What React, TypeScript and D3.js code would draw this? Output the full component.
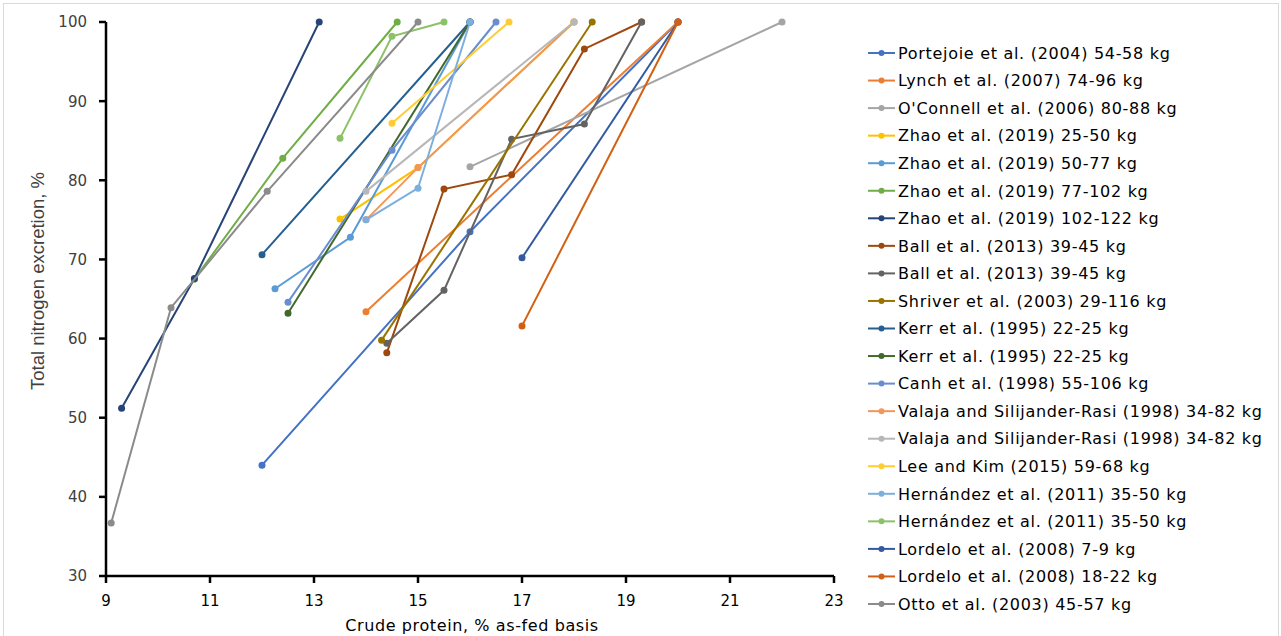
import React from "react";
import * as d3 from "d3";

// studies, in legend order
const seriesNames = [
  "Portejoie et al. (2004) 54-58 kg",
  "Lynch et al. (2007) 74-96 kg",
  "O'Connell et al. (2006) 80-88 kg",
  "Zhao et al. (2019) 25-50 kg",
  "Zhao et al. (2019) 50-77 kg",
  "Zhao et al. (2019) 77-102 kg",
  "Zhao et al. (2019) 102-122 kg",
  "Ball et al. (2013) 39-45 kg",
  "Ball et al. (2013) 39-45 kg",
  "Shriver et al. (2003) 29-116 kg",
  "Kerr et al. (1995) 22-25 kg",
  "Kerr et al. (1995) 22-25 kg",
  "Canh et al. (1998) 55-106 kg",
  "Valaja and Silijander-Rasi (1998) 34-82 kg",
  "Valaja and Silijander-Rasi (1998) 34-82 kg",
  "Lee and Kim (2015) 59-68 kg",
  "Hernández et al. (2011) 35-50 kg",
  "Hernández et al. (2011) 35-50 kg",
  "Lordelo et al. (2008) 7-9 kg",
  "Lordelo et al. (2008) 18-22 kg",
  "Otto et al. (2003) 45-57 kg",
];

const seriesColors = [
  "#4472C4", "#ED7D31", "#A5A5A5", "#FFC000", "#5B9BD5", "#70AD47",
  "#264478", "#9E480E", "#636363", "#997300", "#255E91", "#43682B",
  "#698ED0", "#F1975A", "#B7B7B7", "#FFCD33", "#7CAFDD", "#8CC168",
  "#335AA1", "#D26012", "#8B8B8B",
];

// crude protein, % as-fed
const seriesX = [
  [12, 16, 20],
  [14, 20],
  [16, 22],
  [13.5, 15, 18],
  [12.25, 13.7, 16],
  [10.7, 12.4, 14.6],
  [9.3, 10.7, 13.1],
  [14.4, 15.5, 16.8, 18.2, 19.3],
  [14.4, 15.5, 16.8, 18.2, 19.3],
  [14.3, 18.35],
  [12, 16],
  [12.5, 16],
  [12.5, 14.5, 16.5],
  [14, 15, 18],
  [14, 18],
  [14.5, 16.75],
  [14, 15, 16],
  [13.5, 14.5, 15.5],
  [17, 20],
  [17, 20],
  [9.1, 10.25, 12.1, 15],
];

// total nitrogen excretion, %
const seriesY = [
  [44, 73.5, 100],
  [63.4, 100],
  [81.7, 100],
  [75.1, 81.6, 100],
  [66.3, 72.8, 100],
  [67.5, 82.8, 100],
  [51.2, 67.6, 100],
  [58.2, 78.9, 80.7, 96.6, 100],
  [59.4, 66.1, 85.2, 87.1, 100],
  [59.8, 100],
  [70.6, 100],
  [63.2, 100],
  [64.6, 83.8, 100],
  [75, 81.6, 100],
  [78.6, 100],
  [87.2, 100],
  [75, 79, 100],
  [85.3, 98.2, 100],
  [70.2, 100],
  [61.6, 100],
  [36.7, 63.9, 78.6, 100],
];

const xTicks = [9, 11, 13, 15, 17, 19, 21, 23];
const yTicks = [30, 40, 50, 60, 70, 80, 90, 100];

const W = 1281;
const H = 636;
const font = "'DejaVu Sans', 'Noto Sans', sans-serif";

export default function App() {
  const x = d3.scaleLinear().domain([9, 23]).range([106, 834]);
  const y = d3.scaleLinear().domain([30, 100]).range([576, 22]);
  const line = d3
    .line<[number, number]>()
    .x((d) => x(d[0]))
    .y((d) => y(d[1]));

  const series = seriesNames.map((name, i) => ({
    name,
    color: seriesColors[i],
    pts: seriesX[i].map((v, j) => [v, seriesY[i][j]] as [number, number]),
  }));

  return (
    <svg
      width={W}
      height={H}
      style={{ position: "absolute", left: 0, top: 0, background: "#fff" }}
    >
      <rect x={3.5} y={3.5} width={1275} height={H + 5} fill="#fff" stroke="#d9d9d9" />

      {series.map((s, i) => (
        <g key={i}>
          <path d={line(s.pts) || ""} fill="none" stroke={s.color} strokeWidth={2} />
          {s.pts.map((p, j) => (
            <circle key={j} cx={x(p[0])} cy={y(p[1])} r={3.5} fill={s.color} />
          ))}
        </g>
      ))}

      {/* axes */}
      <line x1={106} x2={106} y1={y(100)} y2={y(30)} stroke="#000" strokeWidth={2.5} />
      <line x1={106} x2={834} y1={576} y2={576} stroke="#000" strokeWidth={2.5} />
      {yTicks.map((t) => (
        <g key={t}>
          <line x1={99} x2={106} y1={y(t)} y2={y(t)} stroke="#000" strokeWidth={2.5} />
          <text
            x={87}
            y={y(t)}
            dy="0.36em"
            textAnchor="end"
            fontFamily={font}
            fontSize={15}
            fill="#404040"
          >
            {t}
          </text>
        </g>
      ))}
      {xTicks.map((t) => (
        <g key={t}>
          <line x1={x(t)} x2={x(t)} y1={576} y2={583} stroke="#000" strokeWidth={2.5} />
          <text
            x={x(t)}
            y={606}
            textAnchor="middle"
            fontFamily={font}
            fontSize={15}
            fill="#000"
          >
            {t}
          </text>
        </g>
      ))}

      <text
        x={472}
        y={631}
        textAnchor="middle"
        fontFamily={font}
        fontSize={16}
        letterSpacing={0.6}
        fill="#000"
      >
        Crude protein, % as-fed basis
      </text>
      <text
        transform="translate(44,281) rotate(-90)"
        textAnchor="middle"
        fontFamily="'Liberation Sans', Arial, sans-serif"
        fontSize={18.5}
        fill="#404040"
      >
        Total nitrogen excretion, %
      </text>

      {/* legend */}
      {series.map((s, i) => {
        const ly = 53 + i * 27.55;
        return (
          <g key={i}>
            <line x1={868} x2={895} y1={ly} y2={ly} stroke={s.color} strokeWidth={2} />
            <circle cx={881.5} cy={ly} r={3} fill={s.color} />
            <text
              x={898}
              y={ly}
              dy="0.36em"
              fontFamily={font}
              fontSize={16}
              letterSpacing={0.7}
              fill="#000"
            >
              {s.name}
            </text>
          </g>
        );
      })}
    </svg>
  );
}
